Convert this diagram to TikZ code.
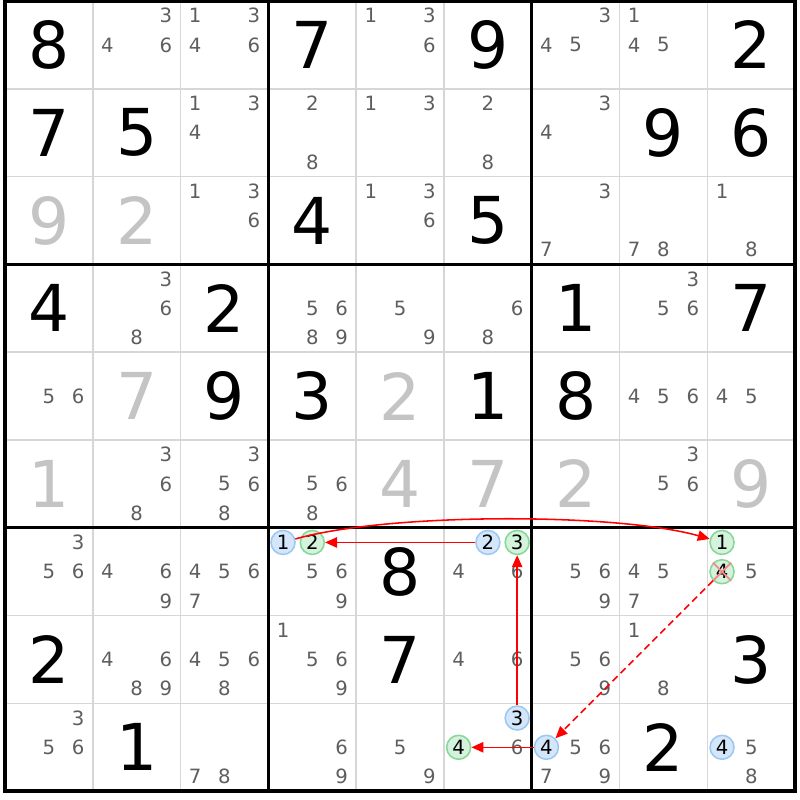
\documentclass[tikz,border=0pt]{standalone}
\usepackage{fontspec}
\setmainfont{DejaVu Sans}
\usetikzlibrary{arrows.meta}
\usetikzlibrary{calc}

\definecolor{candgray}{HTML}{5E5E5E}
\definecolor{solvedgray}{HTML}{C4C4C4}
\definecolor{gridgray}{HTML}{D6D6D6}
\definecolor{bluefill}{HTML}{D4E6FA}
\definecolor{blueline}{HTML}{9CC8F2}
\definecolor{greenfill}{HTML}{D4F2DC}
\definecolor{greenline}{HTML}{86D896}
\definecolor{crossred}{HTML}{F28C8C}

\newcommand{\givenat}[3]{\node[given] (v#1#2) at (#2+0.5,#1+0.5) {#3};}
\newcommand{\solvedat}[3]{\node[solved] (v#1#2) at (#2+0.5,#1+0.5) {#3};}
\newcommand{\candsat}[3]{\foreach \d in {#3} {\pgfmathtruncatemacro\sx{mod(\d-1,3)}\pgfmathtruncatemacro\sy{(\d-1)/3}\node[cand] (k#1#2\d) at ({#2+(\sx+0.5)/3},{#1+(\sy+0.5)/3}) {\d};}}
\newcommand{\circat}[4]{\pgfmathtruncatemacro\sx{mod(#3-1,3)}\pgfmathtruncatemacro\sy{(#3-1)/3}\node[#4] (h#1#2#3) at ({#2+(\sx+0.5)/3},{#1+(\sy+0.5)/3}) {#3};}

\begin{document}
\begin{tikzpicture}[x=2.195cm,y=-2.195cm,
    given/.style={font=\fontsize{46}{46}\selectfont,text=black,inner sep=0pt},
    solved/.style={given,text=solvedgray},
    cand/.style={font=\fontsize{14}{14}\selectfont,text=candgray,inner sep=0pt},
    hlblue/.style={circle,draw=blueline,fill=bluefill,line width=1.1pt,minimum size=0.6cm,inner sep=0pt,font=\fontsize{14}{14}\selectfont},
    hlgreen/.style={hlblue,draw=greenline,fill=greenfill},
    link/.style={red,line width=1.1pt,-{Triangle[length=0.3cm,width=0.26cm]}},
    weak/.style={link,dash pattern=on 5pt off 3pt},
    cross/.style={draw=crossred,line width=1.3pt}]
    \useasboundingbox (-0.0569,-0.0114) rectangle (9.0547,9.1002);
    \foreach \i in {1,...,8} {\draw[gridgray,line width=1.2pt] (\i,0) -- (\i,9); \draw[gridgray,line width=1.2pt] (0,\i) -- (9,\i);}
    \foreach \i in {3,6} {\draw[black,line width=2.2pt] (\i,0) -- (\i,9); \draw[black,line width=2.2pt] (0,\i) -- (9,\i);}
    \draw[black,line width=3pt] (0,0) rectangle (9,9);
    \givenat{0}{0}{8} \candsat{0}{1}{3,4,6} \candsat{0}{2}{1,3,4,6} \givenat{0}{3}{7} \candsat{0}{4}{1,3,6} \givenat{0}{5}{9} \candsat{0}{6}{3,4,5} \candsat{0}{7}{1,4,5} \givenat{0}{8}{2}
    \givenat{1}{0}{7} \givenat{1}{1}{5} \candsat{1}{2}{1,3,4} \candsat{1}{3}{2,8} \candsat{1}{4}{1,3} \candsat{1}{5}{2,8} \candsat{1}{6}{3,4} \givenat{1}{7}{9} \givenat{1}{8}{6}
    \solvedat{2}{0}{9} \solvedat{2}{1}{2} \candsat{2}{2}{1,3,6} \givenat{2}{3}{4} \candsat{2}{4}{1,3,6} \givenat{2}{5}{5} \candsat{2}{6}{3,7} \candsat{2}{7}{7,8} \candsat{2}{8}{1,8}
    \givenat{3}{0}{4} \candsat{3}{1}{3,6,8} \givenat{3}{2}{2} \candsat{3}{3}{5,6,8,9} \candsat{3}{4}{5,9} \candsat{3}{5}{6,8} \givenat{3}{6}{1} \candsat{3}{7}{3,5,6} \givenat{3}{8}{7}
    \candsat{4}{0}{5,6} \solvedat{4}{1}{7} \givenat{4}{2}{9} \givenat{4}{3}{3} \solvedat{4}{4}{2} \givenat{4}{5}{1} \givenat{4}{6}{8} \candsat{4}{7}{4,5,6} \candsat{4}{8}{4,5}
    \solvedat{5}{0}{1} \candsat{5}{1}{3,6,8} \candsat{5}{2}{3,5,6,8} \candsat{5}{3}{5,6,8} \solvedat{5}{4}{4} \solvedat{5}{5}{7} \solvedat{5}{6}{2} \candsat{5}{7}{3,5,6} \solvedat{5}{8}{9}
    \candsat{6}{0}{3,5,6} \candsat{6}{1}{4,6,9} \candsat{6}{2}{4,5,6,7} \candsat{6}{3}{5,6,9} \givenat{6}{4}{8} \candsat{6}{5}{4,6} \candsat{6}{6}{5,6,9} \candsat{6}{7}{4,5,7} \candsat{6}{8}{5}
    \givenat{7}{0}{2} \candsat{7}{1}{4,6,8,9} \candsat{7}{2}{4,5,6,8} \candsat{7}{3}{1,5,6,9} \givenat{7}{4}{7} \candsat{7}{5}{4,6} \candsat{7}{6}{5,6,9} \candsat{7}{7}{1,8} \givenat{7}{8}{3}
    \candsat{8}{0}{3,5,6} \givenat{8}{1}{1} \candsat{8}{2}{7,8} \candsat{8}{3}{6,9} \candsat{8}{4}{5,9} \candsat{8}{5}{6} \candsat{8}{6}{5,6,7,9} \givenat{8}{7}{2} \candsat{8}{8}{5,8}
    \circat{6}{3}{1}{hlblue} \circat{6}{3}{2}{hlgreen} \circat{6}{5}{2}{hlblue} \circat{6}{5}{3}{hlgreen} \circat{6}{8}{1}{hlgreen} \circat{6}{8}{4}{hlgreen}
    \circat{8}{5}{3}{hlblue} \circat{8}{5}{4}{hlgreen} \circat{8}{6}{4}{hlblue} \circat{8}{8}{4}{hlblue}
    \draw[cross] (h684.north west) -- (h684.south east) (h684.north east) -- (h684.south west);
    \draw[link] (h631) .. controls +(1.2,-0.34) and +(-1.2,-0.34) .. (h681);
    \draw[link] (h652) -- (h632);
    \draw[link] (h853) -- (h653);
    \draw[link] (h864) -- (h854);
    \draw[weak] (h684) -- (h864);
\end{tikzpicture}
\end{document}
